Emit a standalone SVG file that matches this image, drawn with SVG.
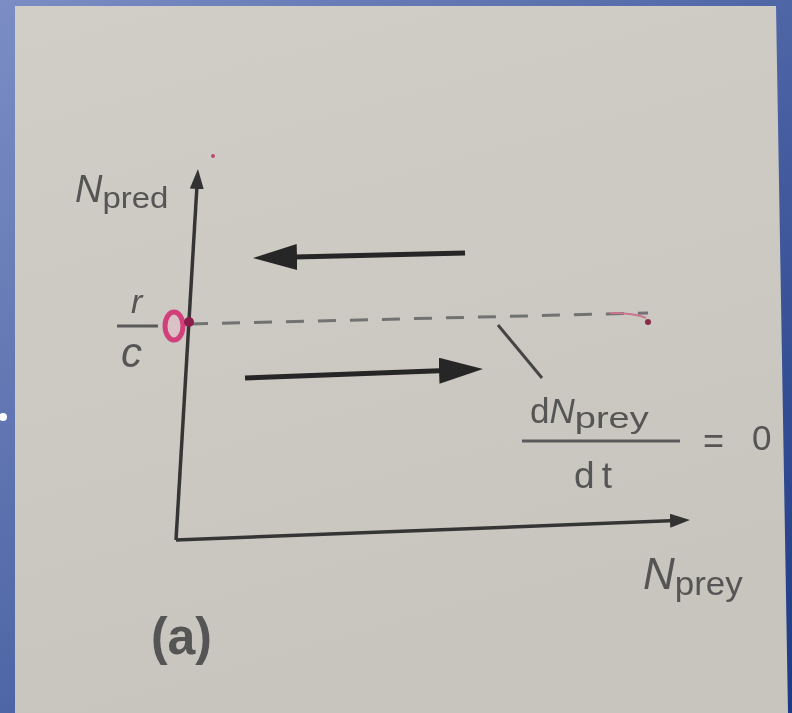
<svg xmlns="http://www.w3.org/2000/svg" width="792" height="713" viewBox="0 0 792 713">
  <defs>
    <linearGradient id="bg" x1="0" y1="0" x2="1" y2="1">
      <stop offset="0" stop-color="#7b8dc4"/>
      <stop offset="0.5" stop-color="#4f66a6"/>
      <stop offset="1" stop-color="#1d3a86"/>
    </linearGradient>
    <linearGradient id="paper" x1="0" y1="0" x2="0.3" y2="1">
      <stop offset="0" stop-color="#d1cec8"/>
      <stop offset="1" stop-color="#c8c5bf"/>
    </linearGradient>
    <filter id="soft" x="-5%" y="-5%" width="110%" height="110%">
      <feGaussianBlur stdDeviation="0.7"/>
    </filter>
    <marker id="bighead" markerUnits="userSpaceOnUse" viewBox="0 0 44 26" markerWidth="44" markerHeight="26" refX="34" refY="13" orient="auto">
      <path d="M0,0 L44,13 L0,26 z" fill="#262626"/>
    </marker>
    <marker id="axishead" markerUnits="userSpaceOnUse" viewBox="0 0 20 14" markerWidth="20" markerHeight="14" refX="12" refY="7" orient="auto">
      <path d="M0,0 L20,7 L0,14 z" fill="#333"/>
    </marker>
    <style>
      .lbl { font-family: "Liberation Sans", Arial, sans-serif; fill: #555; }
      .it { font-style: italic; }
      .axis { stroke: #363636; stroke-width: 3.5; fill: none; }
      .flow { stroke: #262626; stroke-width: 5; fill: none; }
      .frac { stroke: #5a5a5a; stroke-width: 3; }
    </style>
  </defs>

  <rect x="0" y="0" width="792" height="713" fill="url(#bg)"/>
  <polygon points="15,6 776,6 788,713 15,713" fill="url(#paper)"/>
  <circle cx="3" cy="417" r="4" fill="#ffffff"/>

  <g filter="url(#soft)">
    <g id="connectors">
      <line id="y-axis" class="axis" x1="176" y1="540" x2="197.5" y2="177" marker-end="url(#axishead)"/>
      <line id="x-axis" class="axis" x1="176" y1="540" x2="682" y2="520.3" marker-end="url(#axishead)"/>
      <line id="arrow-left" class="flow" x1="465" y1="253" x2="263" y2="257.8" marker-end="url(#bighead)"/>
      <line id="arrow-right" class="flow" x1="245" y1="378" x2="473" y2="369.4" marker-end="url(#bighead)"/>
      <line id="isocline" x1="190" y1="324" x2="648" y2="313" stroke="#727272" stroke-width="3" stroke-dasharray="18 14"/>
      <line id="leader" x1="498" y1="325" x2="542" y2="378" stroke="#444" stroke-width="3"/>
    </g>

    <g id="pen-marks">
      <ellipse cx="174" cy="326" rx="9" ry="14" fill="#e7b9c8" fill-opacity="0.5" stroke="#d2417c" stroke-width="5"/>
      <circle cx="189" cy="322" r="5" fill="#8c1c4c"/>
      <path d="M610,313 Q635,313 646,318" fill="none" stroke="#c9768f" stroke-width="2"/>
      <circle cx="648" cy="322" r="3" fill="#8a2a48"/>
      <circle cx="213" cy="156" r="2" fill="#c04a6a"/>
    </g>

    <g id="label-npred">
      <text class="lbl" x="75" y="202" font-size="38"><tspan class="it">N</tspan><tspan font-size="29" y="208" textLength="66" lengthAdjust="spacingAndGlyphs">pred</tspan></text>
    </g>

    <g id="label-rc">
      <text class="lbl it" x="131" y="313" font-size="34">r</text>
      <line class="frac" x1="117" y1="326" x2="158" y2="326"/>
      <text class="lbl it" x="121" y="367" font-size="42">c</text>
    </g>

    <g id="label-isocline">
      <text class="lbl" x="530" y="423" font-size="35">d<tspan class="it">N</tspan><tspan font-size="29" y="428" textLength="74" lengthAdjust="spacingAndGlyphs">prey</tspan></text>
      <line class="frac" x1="522" y1="441" x2="680" y2="441"/>
      <text class="lbl" x="574" y="488" font-size="37" textLength="38" lengthAdjust="spacing">dt</text>
      <text class="lbl" x="703" y="453" font-size="36">=</text>
      <text class="lbl" x="752" y="450" font-size="35">0</text>
    </g>

    <g id="label-nprey">
      <text class="lbl" x="643" y="589" font-size="44"><tspan class="it">N</tspan><tspan font-size="34" y="595" textLength="68" lengthAdjust="spacingAndGlyphs">prey</tspan></text>
    </g>

    <g id="label-a">
      <text class="lbl" x="151" y="654" font-size="52" font-weight="bold" fill="#4a4a4a" textLength="61" lengthAdjust="spacingAndGlyphs">(a)</text>
    </g>
  </g>
</svg>
